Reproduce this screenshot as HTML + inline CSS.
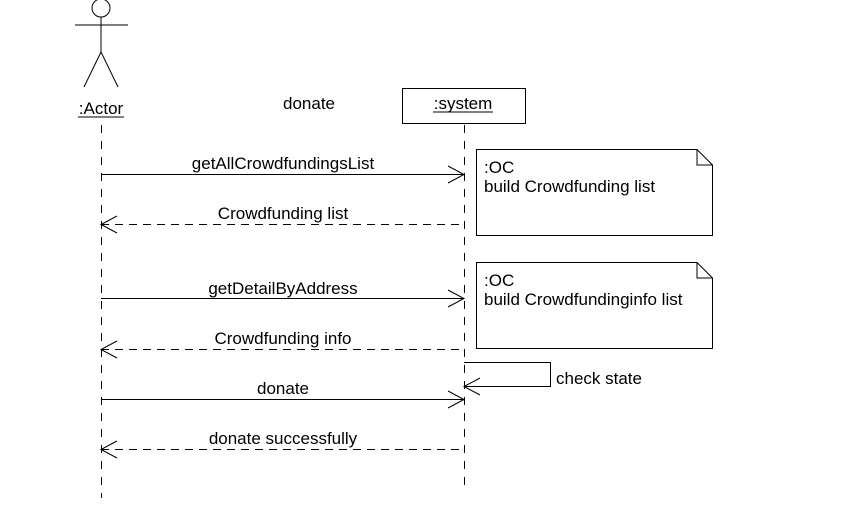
<!DOCTYPE html>
<html><head><meta charset="utf-8"><style>body{margin:0;background:#fff}</style></head><body>
<svg width="854" height="519" xmlns="http://www.w3.org/2000/svg" font-family="Liberation Sans, sans-serif" font-size="17" fill="none" stroke="#000" stroke-width="1">
<circle cx="101" cy="8" r="9"/>
<line x1="75" y1="25" x2="128" y2="25"/>
<line x1="101" y1="17" x2="101" y2="52"/>
<line x1="101" y1="52" x2="84" y2="87"/>
<line x1="101" y1="52" x2="118" y2="87"/>
<text x="101" y="114" text-anchor="middle" fill="#000" stroke="none">:Actor</text>
<line x1="78" y1="117" x2="124" y2="117"/>
<text x="309" y="109" text-anchor="middle" fill="#000" stroke="none">donate</text>
<rect x="402.5" y="88.5" width="123" height="35"/>
<text x="463" y="109" text-anchor="middle" fill="#000" stroke="none">:system</text>
<line x1="433" y1="112" x2="493" y2="112"/>
<line x1="101.5" y1="125" x2="101.5" y2="498" stroke-dasharray="8,8"/>
<line x1="464.5" y1="125" x2="464.5" y2="490" stroke-dasharray="8,8"/>
<g fill="#000" stroke="none">
<text x="283" y="169" text-anchor="middle">getAllCrowdfundingsList</text>
<text x="283" y="219" text-anchor="middle">Crowdfunding list</text>
<text x="283" y="294" text-anchor="middle">getDetailByAddress</text>
<text x="283" y="344" text-anchor="middle">Crowdfunding info</text>
<text x="283" y="394" text-anchor="middle">donate</text>
<text x="283" y="444" text-anchor="middle">donate successfully</text>
<text x="556" y="384">check state</text>
<text x="484" y="173">:OC</text>
<text x="484" y="192">build Crowdfunding list</text>
<text x="484" y="286">:OC</text>
<text x="484" y="305">build Crowdfundinginfo list</text>
</g>
<line x1="101" y1="174.5" x2="464" y2="174.5"/><polyline points="448,166 464,174.5 448,183"/>
<line x1="101" y1="224.5" x2="464" y2="224.5" stroke-dasharray="8,6"/><polyline points="117,216 101,224.5 117,233"/>
<line x1="101" y1="298.5" x2="464" y2="298.5"/><polyline points="448,290 464,298.5 448,307"/>
<line x1="101" y1="349.5" x2="464" y2="349.5" stroke-dasharray="8,6"/><polyline points="117,341 101,349.5 117,358"/>
<polyline points="464,362.5 550.5,362.5 550.5,386.5 464,386.5"/><polyline points="480,378 464,386.5 480,395"/>
<line x1="101" y1="399.5" x2="464" y2="399.5"/><polyline points="448,391 464,399.5 448,408"/>
<line x1="101" y1="449.5" x2="464" y2="449.5" stroke-dasharray="8,6"/><polyline points="117,441 101,449.5 117,458"/>
<path d="M476.5 149.5 H697 L712.5 165 V235.5 H476.5 Z M697 149.5 V165 H712.5"/>
<path d="M476.5 262.5 H697 L712.5 278 V348.5 H476.5 Z M697 262.5 V278 H712.5"/>
</svg>
</body></html>
